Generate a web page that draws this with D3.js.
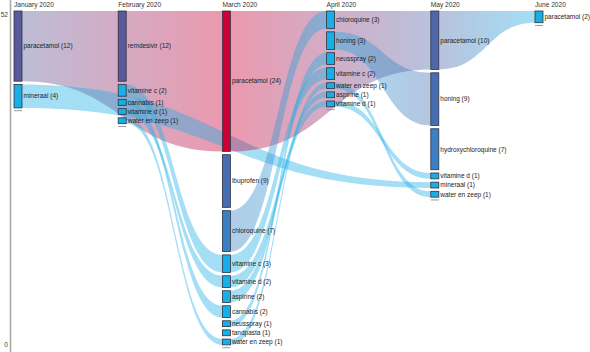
<!DOCTYPE html>
<html>
<head>
<meta charset="utf-8">
<script src="https://cdn.jsdelivr.net/npm/d3@7"></script>
<style>
  body { margin: 0; background: #fff; }
  svg { display: block; font-family: "Liberation Sans", Arial, sans-serif; }
  .title { font-size: 6.6px; fill: #333; }
  .label { font-size: 6.5px; fill: #222; }
  .axis text { font-size: 6.6px; fill: #444; }
</style>
</head>
<body>
<div id="chart"></div>
<script>
// months (columns)
const months = ["January 2020", "February 2020", "March 2020", "April 2020", "May 2020", "June 2020"];

// items and counts per month, top to bottom
const janItems = ["paracetamol", "mineraal"];
const janCounts = [12, 4];
const febItems = ["remdesivir", "vitamine c", "cannabis", "vitamine d", "water en zeep"];
const febCounts = [12, 2, 1, 1, 1];
const marItems = ["paracetamol", "ibuprofen", "chloroquine", "vitamine c", "vitamine d", "aspirine", "cannabis", "neusspray", "tandpasta", "water en zeep"];
const marCounts = [24, 9, 7, 3, 2, 2, 2, 1, 1, 1];
const aprItems = ["chloroquine", "honing", "neusspray", "vitamine c", "water en zeep", "aspirine", "vitamine d"];
const aprCounts = [3, 3, 2, 2, 1, 1, 1];
const mayItems = ["paracetamol", "honing", "hydroxychloroquine", "vitamine d", "mineraal", "water en zeep"];
const mayCounts = [10, 9, 7, 1, 1, 1];
const junItems = ["paracetamol"];
const junCounts = [2];

const axisTicks = [0, 52];

const width = 590, height = 352;
const topY = 11, gap = 3.3, nodeWidth = 8;

const columns = [
  [janItems, janCounts], [febItems, febCounts], [marItems, marCounts],
  [aprItems, aprCounts], [mayItems, mayCounts], [junItems, junCounts]
];

const svg = d3.select("#chart").append("svg")
    .attr("width", width)
    .attr("height", height);

// scales
const xScale = d3.scalePoint().domain(months).range([14, 535]);
const hScale = d3.scaleLinear().domain([0, 52]).range([0, 304.2]);
const yAxisScale = d3.scaleLinear().domain([0, 52]).range([344.5, 14.5]);
const color = d3.scaleLinear()
    .domain([1, 4, 7, 9.5, 12, 24])
    .range(["#1aaee6", "#1aaee6", "#3a80c2", "#4a6aad", "#5a5a9a", "#cc0036"]);

// build nodes
const nodes = [];
const ends = [];
columns.forEach(([names, counts], ci) => {
  let y = topY;
  names.forEach((name, i) => {
    const h = hScale(counts[i]);
    nodes.push({col: ci, month: months[ci], name, value: counts[i], y0: y, y1: y + h});
    y += h + gap;
  });
  ends.push({month: months[ci], y: y});
});

// link each item to its next occurrence
const links = [];
nodes.forEach(n => {
  const next = nodes.filter(m => m.name === n.name && m.col > n.col)
    .sort((a, b) => a.col - b.col)[0];
  if (next) links.push({source: n, target: next});
});

// axis
svg.append("line")
    .attr("x1", 10.5).attr("x2", 10.5)
    .attr("y1", 0).attr("y2", height)
    .attr("stroke", "#aaa")
    .attr("stroke-width", 1.6);

const yAxis = svg.append("g")
    .attr("class", "axis")
    .attr("transform", "translate(9, 0)")
    .call(d3.axisLeft(yAxisScale).tickValues(axisTicks).tickSize(0).tickPadding(1));
yAxis.select(".domain").remove();

// titles
svg.selectAll(".title")
  .data(months)
  .enter().append("text")
    .attr("class", "title")
    .attr("x", d => xScale(d))
    .attr("y", 7)
    .text(d => d);

// gradients
const defs = svg.append("defs");
links.forEach((l, i) => {
  const g = defs.append("linearGradient")
      .attr("id", "grad" + i)
      .attr("gradientUnits", "userSpaceOnUse")
      .attr("x1", xScale(l.source.month) + nodeWidth)
      .attr("x2", xScale(l.target.month));
  g.append("stop").attr("offset", "0%").attr("stop-color", color(l.source.value));
  g.append("stop").attr("offset", "100%").attr("stop-color", color(l.target.value));
});

function linkPath(l) {
  const x0 = xScale(l.source.month) + nodeWidth;
  const x1 = xScale(l.target.month);
  const xm = (x0 + x1) / 2;
  const s = l.source, t = l.target;
  return `M${x0},${s.y0}C${xm},${s.y0} ${xm},${t.y0} ${x1},${t.y0}` +
         `L${x1},${t.y1}C${xm},${t.y1} ${xm},${s.y1} ${x0},${s.y1}Z`;
}

svg.append("g")
  .selectAll("path")
  .data(links)
  .enter().append("path")
    .attr("d", linkPath)
    .attr("fill", (d, i) => `url(#grad${i})`)
    .attr("fill-opacity", 0.4);

// nodes
svg.append("g")
  .selectAll("rect")
  .data(nodes)
  .enter().append("rect")
    .attr("x", d => xScale(d.month))
    .attr("y", d => d.y0)
    .attr("width", nodeWidth)
    .attr("height", d => d.y1 - d.y0)
    .attr("fill", d => color(d.value))
    .attr("stroke", "#2d3340")
    .attr("stroke-width", 0.8);

// end markers
svg.append("g")
  .selectAll("line")
  .data(ends)
  .enter().append("line")
    .attr("x1", d => xScale(d.month))
    .attr("x2", d => xScale(d.month) + nodeWidth)
    .attr("y1", d => d.y - 0.5)
    .attr("y2", d => d.y - 0.5)
    .attr("stroke", "#999")
    .attr("stroke-width", 1);

// labels
svg.append("g")
  .selectAll("text")
  .data(nodes)
  .enter().append("text")
    .attr("class", "label")
    .attr("x", d => xScale(d.month) + nodeWidth + 1.5)
    .attr("y", d => (d.y0 + d.y1) / 2)
    .attr("dy", "0.35em")
    .text(d => `${d.name} (${d.value})`);
</script>
</body>
</html>
